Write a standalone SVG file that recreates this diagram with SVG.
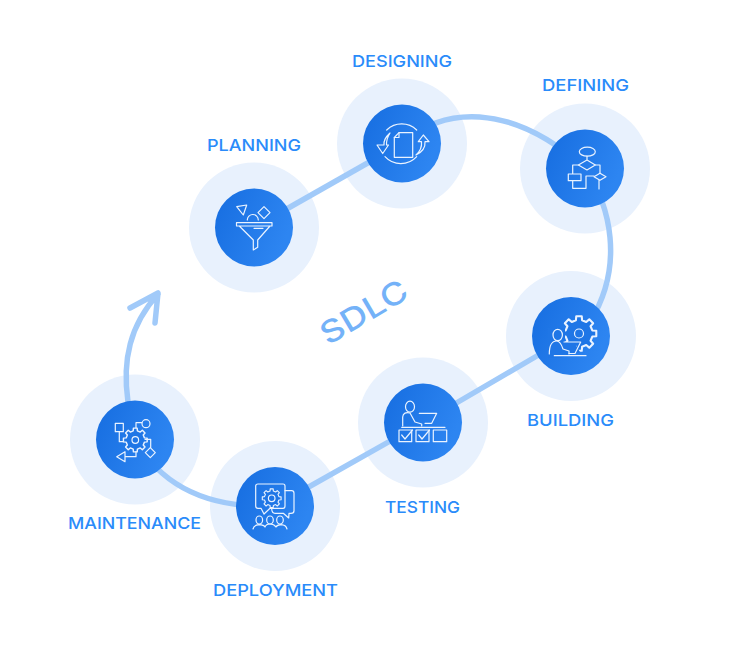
<svg xmlns="http://www.w3.org/2000/svg" width="735" height="648" viewBox="0 0 735 648">
<style>
.halo{fill:#e8f1fd}
.core{fill:url(#coreFill)}
.link{fill:none;stroke:#a1caf9;stroke-width:5.5;stroke-linecap:butt}
.label{font-family:"Inter","Liberation Sans",sans-serif;font-weight:500;font-size:16.5px;fill:#2a8bfa;text-anchor:middle}
.ico{fill:none;stroke:#eaf3ff;stroke-width:1.2;stroke-linejoin:round;stroke-linecap:round}
.ico .mask{fill:#1f76e6}
.gear{fill:#1f76e6;stroke:#eaf3ff;stroke-width:1.2;stroke-linejoin:round;vector-effect:non-scaling-stroke}
</style>
<defs>
<linearGradient id="coreFill" x1="0" y1="0" x2="1" y2="0.4"><stop offset="0" stop-color="#166de0"/><stop offset="1" stop-color="#2d85f1"/></linearGradient>
<clipPath id="pageClip"><rect x="0" y="0" width="650" height="648"/></clipPath>
<polygon id="gearShape" points="7.6,-1.75 9.88,-1.56 9.88,1.56 7.6,1.75 6.61,4.13 8.09,5.88 5.88,8.09 4.13,6.61 1.75,7.6 1.56,9.88 -1.56,9.88 -1.75,7.6 -4.13,6.61 -5.88,8.09 -8.09,5.88 -6.61,4.13 -7.6,1.75 -9.88,1.56 -9.88,-1.56 -7.6,-1.75 -6.61,-4.13 -8.09,-5.88 -5.88,-8.09 -4.13,-6.61 -1.75,-7.6 -1.56,-9.88 1.56,-9.88 1.75,-7.6 4.13,-6.61 5.88,-8.09 8.09,-5.88 6.61,-4.13"/>
</defs>
<rect width="735" height="648" fill="#ffffff"/>
<g id="halos">
<circle class="halo" cx="254" cy="227.5" r="65"/>
<circle class="halo" cx="402" cy="143.5" r="65"/>
<circle class="halo" cx="585" cy="168.5" r="65" clip-path="url(#pageClip)"/>
<circle class="halo" cx="571" cy="336" r="65"/>
<circle class="halo" cx="423" cy="422.5" r="65"/>
<circle class="halo" cx="275" cy="506" r="65"/>
<circle class="halo" cx="135" cy="439.5" r="65"/>
</g>
<g id="connectors">
<path class="link" d="M254 227.5L402 143.5"/>
<path class="link" d="M402 143.5C440 108 510 100 585 168.5"/>
<path class="link" d="M585 168.5C610 205 625 265 590 322"/>
<path class="link" d="M571 336L423 422.5L275 506"/>
<path class="link" d="M275 506Q175 510 135 439.5"/>
<path class="link" style="stroke-linecap:round;stroke-linejoin:round" d="M128 402C122 360 130 325 158 294M130 308L158 293L155 323"/>
</g>
<g id="planning">
<circle class="core" cx="254" cy="227.5" r="39"/>
<g class="ico">
<path d="M236.5 222.7H272V226H236.5ZM239.3 226L253.3 240V250L257.7 247.3V240L270 226M254 228.3H263"/>
<path d="M236.7 206.7L246.7 205L243.3 215Z"/>
<path d="M264 206.7L270 212.7L264 218.7L258 212.7Z"/>
<path d="M247.3 220A5.5 5.5 0 0 1 258.3 220"/>
</g>
<text class="label" x="254" y="150.5" textLength="94" lengthAdjust="spacingAndGlyphs">PLANNING</text>
</g>
<g id="designing">
<circle class="core" cx="402" cy="143.5" r="39"/>
<g class="ico">
<path d="M399 132.7H412.7V157.3H394.3V137.5Z"/>
<path d="M399 132.7V137.5H394.3"/>
<path d="M386.7 130A21.5 21.5 0 0 1 416.7 130M385 156.7A21.5 21.5 0 0 0 416.7 156.7"/>
<path d="M390 133C385.5 137 383.5 141 384 145H377L382.7 153.5L388.5 145H386.5C386.3 141.5 387.5 137 390 133Z"/>
<path d="M416 155C420.5 151 422 147 421.5 141.7H418.3L423.3 135L429 141.7H425C425.5 147 422 152 416 155Z"/>
</g>
<text class="label" x="402" y="67" textLength="100" lengthAdjust="spacingAndGlyphs">DESIGNING</text>
</g>
<g id="defining">
<circle class="core" cx="585" cy="168.5" r="39"/>
<g class="ico">
<ellipse cx="587.3" cy="151.7" rx="8" ry="4.5"/>
<path d="M587 156.2V160L595.3 165L587 170L578.4 165L587 160"/>
<path d="M578.4 165H572.7V174M568.3 174H581V180.7H568.3ZM572.7 180.7V188.3H586V176H594M595.3 165H600V173"/>
<path d="M600 173.2L606 176.7L600 180.2L594 176.7ZM599 180V189"/>
</g>
<text class="label" x="585.5" y="91" textLength="87" lengthAdjust="spacingAndGlyphs">DEFINING</text>
</g>
<g id="building">
<circle class="core" cx="571" cy="336" r="39"/>
<g class="ico">
<use href="#gearShape" class="gear" transform="translate(579 333.5) scale(1.75)"/>
<circle cx="579" cy="333.5" r="4.5"/>
<path class="mask" stroke="none" d="M548 328H565V342L574 342L580 352L560 358H548Z"/>
<ellipse cx="557.7" cy="335" rx="4.7" ry="5.7"/>
<path d="M549.3 354C549.3 345 552 341 556.7 341C560 341 562 346 563 349L569 351V354"/>
<path d="M564 342H580.7L575 353.5H569"/>
<path d="M554.3 355.7H586"/>
</g>
<text class="label" x="570.5" y="426" textLength="87" lengthAdjust="spacingAndGlyphs">BUILDING</text>
</g>
<g id="testing">
<circle class="core" cx="423" cy="422.5" r="39"/>
<g class="ico">
<ellipse cx="410" cy="406.7" rx="4.5" ry="5.5"/>
<path d="M402.7 426V417C403 413 406 412 410 413L415 422L421.7 424V426"/>
<path d="M419.3 413.3H436.7L431.7 423.3H425"/>
<path d="M401.7 427.3H445"/>
<path d="M399 430H411.7V441.7H399ZM416 430H429V441.7H416ZM433.3 430H446.7V441.7H433.3Z"/>
<path d="M401.7 435L405 439L412.5 430M418.7 435L422 439L429.5 430"/>
</g>
<text class="label" x="422.5" y="513" textLength="75" lengthAdjust="spacingAndGlyphs">TESTING</text>
</g>
<g id="deployment">
<circle class="core" cx="275" cy="506" r="39"/>
<g class="ico">
<path d="M285 490.7H291.7Q294 490.7 294 493.3V510.7Q294 513.3 291 513.3H289L288.7 518L283.3 513.3H275Q272 513.3 271.7 509"/>
<path d="M258 484H283Q285 484 285 486V506Q285 508.3 283 508.3H270L264 514L261 508.3H258Q255.7 508.3 255.7 506V486Q255.7 484 258 484Z"/>
<use href="#gearShape" class="gear" transform="translate(271.7 498.3) scale(0.95)"/>
<circle cx="271.7" cy="498.3" r="3.3"/>
<ellipse cx="259.3" cy="520" rx="3.3" ry="4"/>
<ellipse cx="270" cy="520" rx="3.3" ry="4"/>
<ellipse cx="280" cy="520" rx="3.3" ry="4"/>
<path d="M253 529Q254 525 259 524.7Q264 525 265 527M265 527Q266 524 270 524Q274 524 276 527M276 527Q277 525 281 524.7Q286 525 287 529"/>
</g>
<text class="label" x="275.5" y="596" textLength="125" lengthAdjust="spacingAndGlyphs">DEPLOYMENT</text>
</g>
<g id="maintenance">
<circle class="core" cx="135" cy="439.5" r="39"/>
<g class="ico">
<path d="M115.3 423.3H123.3V431.7H115.3ZM119.3 431.7V441.7H123.3"/>
<circle cx="146" cy="423.7" r="4"/>
<path d="M141.7 422.7H136V428"/>
<use href="#gearShape" class="gear" transform="translate(135.3 440) scale(1.2)"/>
<circle cx="135.3" cy="440" r="3.3"/>
<path d="M145 439.3H150.7V448M150.3 447.7L155.3 452.7L150.3 457.7L145.3 452.7Z"/>
<path d="M116.7 456.7L125 451.7V461.7ZM125 456.7H136V451.7"/>
</g>
<text class="label" x="134.5" y="529" textLength="133" lengthAdjust="spacingAndGlyphs">MAINTENANCE</text>
</g>
<text id="sdlc" x="0" y="0" transform="translate(365 314) rotate(-30.5)" font-family="Inter, 'Liberation Sans', sans-serif" font-weight="500" font-size="31" fill="#74b2f8" text-anchor="middle" dominant-baseline="middle" textLength="96" lengthAdjust="spacingAndGlyphs">SDLC</text>
</svg>
